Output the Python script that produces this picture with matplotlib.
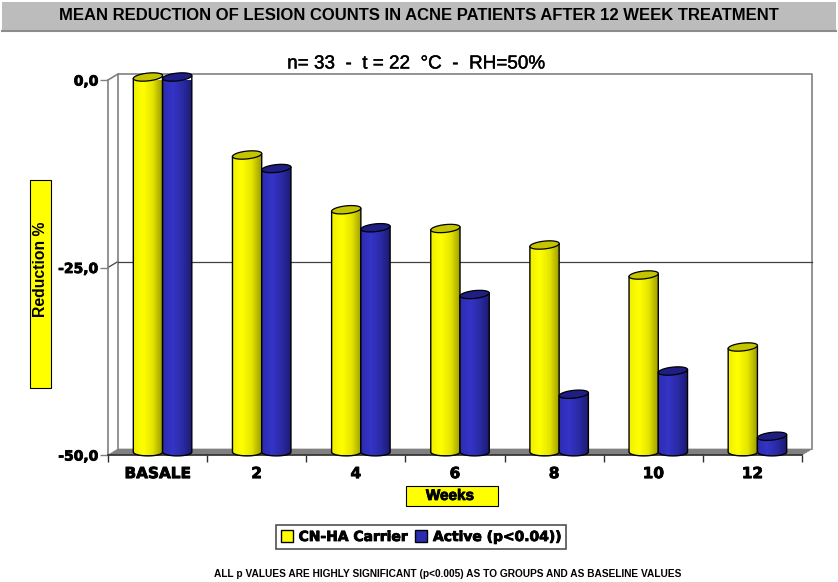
import numpy as np
import matplotlib
matplotlib.use('Agg')
import matplotlib.pyplot as plt
import matplotlib.patheffects as pe
from matplotlib.colors import LinearSegmentedColormap
from matplotlib.patches import Patch, Polygon, Rectangle
from matplotlib.transforms import Affine2D

plt.rcParams['font.family'] = ['Liberation Sans', 'DejaVu Sans']

categories = ['BASALE', '2', '4', '6', '8', '10', '12']
carrier = [0.0, -10.4, -17.7, -20.2, -22.4, -26.4, -36.0]
active = [0.0, -12.2, -20.1, -29.0, -42.3, -39.2, -47.9]
y_ticks = [0, -25, -50]
y_tick_labels = ['0,0', '-25,0', '-50,0']

W, H = 838, 582
fig = plt.figure(figsize=(W / 100, H / 100), dpi=100, facecolor='white')

# fondo: caselle e testi fuori dal grafico, in pixel
bg = fig.add_axes([0, 0, 1, 1], zorder=0)
bg.set_xlim(0, W)
bg.set_ylim(H, 0)
bg.axis('off')

ax = fig.add_axes([108 / W, 1 - 455 / H, 694 / W, 375 / H], zorder=1)
ax.patch.set_alpha(0)
ax.set_xlim(0, 7)
ax.set_ylim(-50, 0)

# profondita' 3D: piano delle barre e parete di fondo
mid = ax.transData + Affine2D().translate(5, 3)
back = ax.transData + Affine2D().translate(10, 6)

GREY = '#808080'
bold = pe.withStroke(linewidth=0.6, foreground='black')

# parete di fondo, pavimento e griglia
ax.plot([0, 0, 7, 7], [-50, 0, 0, -50], color=GREY, lw=1.2, transform=back, clip_on=False)
ax.plot([0, 7], [-25, -25], color='#404040', lw=0.9, transform=back, clip_on=False)
bg.add_patch(Polygon([[108, 455], [802, 455], [812, 449], [118, 449]], fc=GREY, ec=GREY, lw=0.5))
bg.plot([108, 118], [80, 74], color=GREY, lw=1.2)
bg.plot([108, 118], [267.5, 261.5], color='#404040', lw=0.9)

cmap_y = LinearSegmentedColormap.from_list('y', ['#f0f000', '#ffff00', '#e4e400', '#9a9a00'])
cmap_b = LinearSegmentedColormap.from_list('b', ['#2c2cb0', '#3434c8', '#2a2aa4', '#1a1a70'])
ramp = np.linspace(0, 1, 64).reshape(1, -1)

bar_w = 0.295
rx = bar_w / 2
ry = 0.52
tilt = 0.2
t = np.linspace(0, 2 * np.pi, 73)


def cylinder(xc, val, cmap, lid, z):
    arc = np.linspace(np.pi, 2 * np.pi, 37)
    top = np.linspace(0, np.pi, 37)
    xs = np.r_[xc + rx * np.cos(arc), xc + rx * np.cos(top)]
    ys = np.r_[-50 + ry * np.sin(arc), val + tilt * np.cos(top)]
    body = Polygon(np.c_[xs, ys], closed=True, fc='none', ec='black', lw=1.0,
                   transform=mid, zorder=z + 0.2, clip_on=False)
    ax.add_patch(body)
    im = ax.imshow(ramp, cmap=cmap, extent=[xc - rx, xc + rx, -51, val + 1], aspect='auto',
                   transform=mid, zorder=z, interpolation='bilinear')
    im.set_clip_path(body)
    ax.add_patch(Polygon(np.c_[xc + rx * np.cos(t), val + ry * np.sin(t) + tilt * np.cos(t)],
                         closed=True, fc=lid, ec='black', lw=0.9, transform=mid,
                         zorder=z + 0.3, clip_on=False))


for i in range(len(categories)):
    centre = i + 0.5
    cylinder(centre - bar_w / 2, carrier[i], cmap_y, '#c4c400', 3 + i * 2)
    cylinder(centre + bar_w / 2, active[i], cmap_b, '#1e1e84', 4 + i * 2)

ax.set_xlim(0, 7)
ax.set_ylim(-50, 0)
ax.set_aspect('auto')

# assi
for s in ['top', 'right']:
    ax.spines[s].set_visible(False)
ax.spines['left'].set_color(GREY)
ax.spines['left'].set_linewidth(1.2)
ax.spines['bottom'].set_color('#303030')
ax.spines['bottom'].set_linewidth(1.2)
ax.set_yticks(y_ticks)
ax.set_yticklabels(y_tick_labels, fontsize=10, fontweight='bold', family='DejaVu Sans', path_effects=[bold])
ax.tick_params(axis='y', length=6, width=1, color=GREY, pad=1)
ax.set_xticks(np.arange(len(categories)) + 0.5)
ax.set_xticklabels(categories, fontsize=11, fontweight='bold', family='DejaVu Sans', path_effects=[bold])
ax.set_xticks(np.arange(len(categories) + 1), minor=True)
ax.tick_params(axis='x', which='major', length=0, pad=8)
ax.tick_params(axis='x', which='minor', length=5, width=1, color='#303030')
ax.get_xticklabels()[0].set_x(0.49)

# titolo e riquadri
bg.add_patch(Rectangle((2, 2), 834, 29, fc='#bcbcbc', ec='none'))
bg.plot([2, 836], [31, 31], color='#8c8c8c', lw=1.5)
bg.text(419, 16, 'MEAN REDUCTION OF LESION COUNTS IN ACNE PATIENTS AFTER 12 WEEK TREATMENT',
        ha='center', va='center', fontsize=12, fontweight='bold')
bg.text(416, 64, 'n= 33  -  t = 22  °C  -  RH=50%', ha='center', va='center', fontsize=13.6,
        path_effects=[pe.withStroke(linewidth=0.3, foreground='black')])

bg.add_patch(Rectangle((30, 180), 21, 208, fc='#ffff00', ec='black', lw=0.8))
bg.text(40.5, 269, 'Reduction %', rotation=90, ha='center', va='center', fontsize=11.3, fontweight='bold')
bg.add_patch(Rectangle((406, 486), 92, 20, fc='#ffff00', ec='black', lw=0.8))
bg.text(450, 496, 'Weeks', ha='center', va='center', fontsize=11, fontweight='bold', path_effects=[bold])

handles = [Patch(fc='#ffff00', ec='black', label='CN-HA Carrier'),
           Patch(fc='#2c2cb0', ec='black', label='Active (p<0.04))')]
leg = fig.legend(handles=handles, ncol=2, loc='center', bbox_to_anchor=(421 / W, 1 - 537 / H),
                 frameon=True, fancybox=False, edgecolor='#505050', framealpha=1,
                 prop={'family': 'DejaVu Sans', 'weight': 'bold', 'size': 10},
                 handlelength=0.9, handleheight=0.9, handletextpad=0.4, columnspacing=0.5,
                 borderpad=0.35, borderaxespad=0)
leg.get_frame().set_linewidth(1.2)
for txt in leg.get_texts():
    txt.set_path_effects([bold])

bg.text(448, 574, 'ALL p VALUES ARE HIGHLY SIGNIFICANT (p<0.005) AS TO GROUPS AND AS BASELINE VALUES',
        ha='center', va='center', fontsize=7.3, fontweight='bold')

plt.savefig('out.png', dpi=100)
